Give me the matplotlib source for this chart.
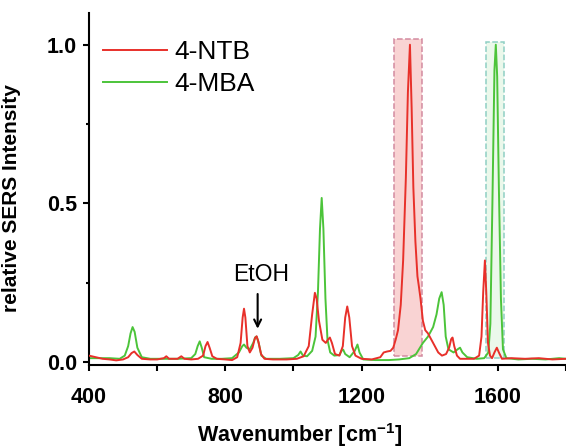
"""
Normalised SERS spectra of 4-NTB and 4-MBA with the marker bands boxed.
"""
import matplotlib
matplotlib.use("Agg")
import matplotlib.pyplot as plt
from matplotlib.patches import Rectangle
from matplotlib.ticker import MultipleLocator

# spectra (wavenumber in cm-1, relative intensity)
ntb_x = [400, 420, 440, 460, 480, 500, 515, 525, 533, 542, 555, 580, 600, 620, 627, 635,
         660, 671, 680, 700, 720, 735, 742, 748, 754, 762, 775, 800, 820, 835, 845, 851,
         855, 859, 865, 872, 880, 887, 892, 897, 905, 915, 940, 980, 1010, 1030, 1045,
         1055, 1063, 1068, 1075, 1085, 1095, 1101, 1107, 1113, 1122, 1135, 1145, 1152,
         1158, 1164, 1172, 1182, 1200, 1230, 1255, 1265, 1275, 1285, 1293, 1300, 1307,
         1315, 1322, 1330, 1336, 1342, 1347, 1352, 1358, 1364, 1368, 1373, 1380, 1387,
         1395, 1405, 1415, 1425, 1436, 1448, 1457, 1463, 1467, 1472, 1480, 1489, 1510,
         1530, 1545, 1552, 1557, 1562, 1566, 1571, 1577, 1583, 1590, 1597, 1603, 1612,
         1640, 1680, 1720, 1760, 1800]
ntb_y = [0.020, 0.015, 0.010, 0.008, 0.005, 0.008, 0.015, 0.028, 0.033, 0.022, 0.010, 0.008,
         0.008, 0.012, 0.018, 0.010, 0.010, 0.018, 0.010, 0.008, 0.010, 0.020, 0.050, 0.063,
         0.045, 0.018, 0.010, 0.008, 0.006, 0.015, 0.060, 0.140, 0.168, 0.140, 0.050, 0.030,
         0.045, 0.075, 0.081, 0.065, 0.025, 0.010, 0.008, 0.008, 0.010, 0.018, 0.050, 0.150,
         0.218, 0.200, 0.130, 0.070, 0.060, 0.070, 0.077, 0.060, 0.025, 0.020, 0.050, 0.140,
         0.175, 0.140, 0.050, 0.020, 0.010, 0.008, 0.015, 0.030, 0.033, 0.035, 0.045, 0.070,
         0.100, 0.180, 0.320, 0.580, 0.850, 1.000, 0.800, 0.550, 0.380, 0.270, 0.240, 0.200,
         0.130, 0.100, 0.090, 0.070, 0.050, 0.030, 0.020, 0.025, 0.045, 0.072, 0.077, 0.050,
         0.020, 0.010, 0.010, 0.010, 0.020, 0.080, 0.220, 0.320, 0.220, 0.060, 0.020, 0.012,
         0.030, 0.045, 0.030, 0.010, 0.012, 0.010, 0.012, 0.008, 0.010]

mba_x = [400, 430, 460, 490, 505, 515, 522, 528, 534, 542, 555, 580, 620, 660, 700, 712,
         719, 725, 731, 738, 760, 790, 820, 840, 850, 855, 862, 872, 882, 888, 892, 898,
         906, 920, 960, 1000, 1014, 1021, 1028, 1040, 1055, 1065, 1072, 1078, 1083, 1088,
         1094, 1100, 1108, 1120, 1135, 1141, 1146, 1152, 1165, 1180, 1188, 1194, 1205,
         1240, 1280, 1310, 1340, 1360, 1380, 1395, 1410, 1420, 1428, 1435, 1441, 1447,
         1455, 1470, 1482, 1489, 1496, 1510, 1538, 1560, 1572, 1578, 1584, 1590, 1594,
         1598, 1603, 1609, 1615, 1625, 1660, 1700, 1740, 1780, 1800]
mba_y = [0.012, 0.012, 0.012, 0.010, 0.020, 0.050, 0.090, 0.110, 0.095, 0.045, 0.015, 0.010,
         0.010, 0.010, 0.012, 0.025, 0.050, 0.065, 0.045, 0.015, 0.010, 0.010, 0.012, 0.030,
         0.050, 0.055, 0.045, 0.040, 0.060, 0.078, 0.080, 0.060, 0.020, 0.010, 0.010, 0.012,
         0.022, 0.033, 0.020, 0.018, 0.035, 0.080, 0.220, 0.420, 0.517, 0.420, 0.200, 0.070,
         0.030, 0.020, 0.022, 0.035, 0.039, 0.025, 0.015, 0.035, 0.055, 0.030, 0.008, 0.006,
         0.006, 0.008, 0.012, 0.025, 0.060, 0.080, 0.110, 0.150, 0.200, 0.220, 0.180, 0.080,
         0.040, 0.030, 0.040, 0.045, 0.030, 0.015, 0.010, 0.012, 0.030, 0.120, 0.500, 0.920,
         1.000, 0.900, 0.550, 0.200, 0.040, 0.012, 0.008, 0.010, 0.008, 0.012, 0.010]

labels = ["4-NTB", "4-MBA"]
colors = ["#e8302a", "#4cc43a"]

# highlighted marker bands: (start, end) in cm-1
ntb_band = (1295, 1378)
mba_band = (1565, 1618)

plt.rcParams["font.family"] = ["Liberation Sans", "DejaVu Sans"]
plt.rcParams["mathtext.fontset"] = "custom"
plt.rcParams["mathtext.rm"] = "Liberation Sans:bold"
plt.rcParams["mathtext.bf"] = "Liberation Sans:bold"
plt.rcParams["mathtext.default"] = "bf"

fig = plt.figure(figsize=(5.66, 4.48), dpi=100)
ax = fig.add_axes([0.1572, 0.1853, 0.8428, 0.7857])

ax.add_patch(Rectangle((ntb_band[0], 0.018), ntb_band[1] - ntb_band[0], 0.999,
                       facecolor="#f9d3d3", edgecolor="#d38ba0", linestyle="--",
                       linewidth=1.1, zorder=1))
ax.add_patch(Rectangle((mba_band[0], 0.013), mba_band[1] - mba_band[0], 0.995,
                       facecolor="#ebf8eb", edgecolor="#8fcfc4", linestyle="--",
                       linewidth=1.1, zorder=1))

ax.plot(ntb_x, ntb_y, color=colors[0], lw=1.4, label=labels[0], zorder=3)
ax.plot(mba_x, mba_y, color=colors[1], lw=1.4, label=labels[1], zorder=2)

ax.annotate("", xy=(895, 0.096), xytext=(895, 0.223),
            arrowprops=dict(arrowstyle="->,head_length=0.5,head_width=0.25",
                            color="black", lw=1.5))
ax.text(904, 0.276, "EtOH", ha="center", va="center", fontsize=16.5)

ax.set_xlim(400, 1800)
ax.set_ylim(-0.0095, 1.10)
ax.xaxis.set_major_locator(MultipleLocator(400))
ax.xaxis.set_minor_locator(MultipleLocator(200))
ax.yaxis.set_major_locator(MultipleLocator(0.5))
ax.yaxis.set_minor_locator(MultipleLocator(0.25))

for side in ["top", "right"]:
    ax.spines[side].set_visible(False)
for side in ["left", "bottom"]:
    ax.spines[side].set_linewidth(1.5)

ax.tick_params(axis="x", which="both", direction="out", length=4, width=1.5, pad=12,
               labelsize=15.5)
ax.tick_params(axis="y", which="major", direction="out", length=4.5, width=1.5, pad=4,
               labelsize=15.5)
ax.tick_params(axis="y", which="minor", direction="out", length=2.5, width=1.5)
for lab in ax.get_xticklabels() + ax.get_yticklabels():
    lab.set_fontweight("bold")

ax.set_xlabel(r"Wavenumber [cm$^{-1}$]", fontsize=15.5, fontweight="bold")
ax.xaxis.set_label_coords(0.442, -0.16)
ax.set_ylabel("relative SERS Intensity", fontsize=15, fontweight="bold")
ax.yaxis.set_label_coords(-0.143, 0.473)

ax.legend(loc="upper left", bbox_to_anchor=(0.029, 0.922), frameon=False, fontsize=19,
          handlelength=2.42, handletextpad=0.3, labelspacing=0.28, borderpad=0,
          borderaxespad=0)

fig.savefig("out.png", dpi=100)
